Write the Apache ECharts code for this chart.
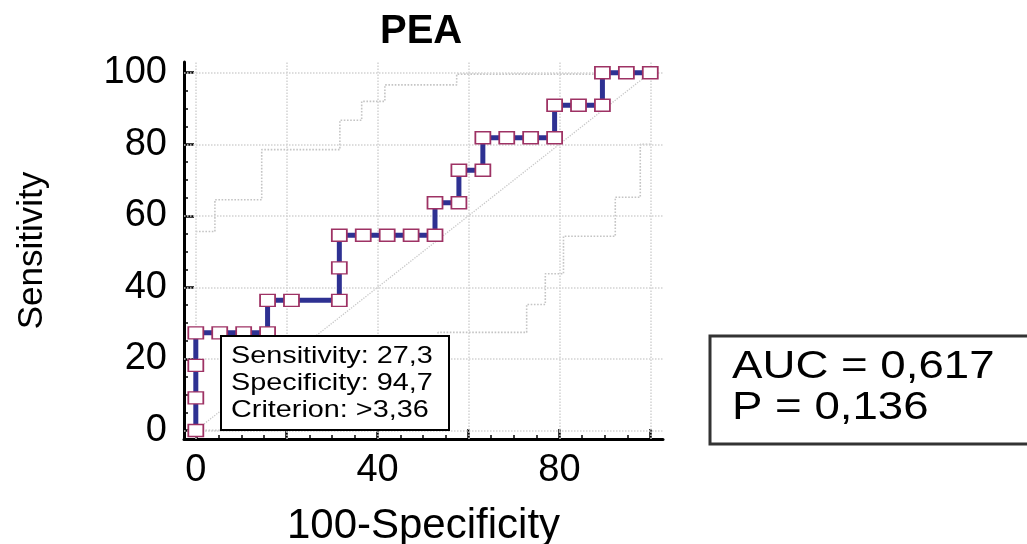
<!DOCTYPE html>
<html><head><meta charset="utf-8">
<script src="https://cdn.jsdelivr.net/npm/echarts@6/dist/echarts.min.js"></script>
<style>html,body{margin:0;padding:0;background:#fff}#c{width:1027px;height:544px}</style>
</head><body><div id="c"></div>
<script>
// ROC curve points (100-Specificity, Sensitivity)
const rocX = [0,0,0,0,5.26,10.53,15.79,15.79,21.05,31.58,31.58,31.58,36.84,42.11,47.37,52.63,52.63,57.89,57.89,63.16,63.16,68.42,73.68,78.95,78.95,84.21,89.47,89.47,94.74,100];
const rocY = [0,9.09,18.18,27.27,27.27,27.27,27.27,36.36,36.36,36.36,45.45,54.55,54.55,54.55,54.55,54.55,63.64,63.64,72.73,72.73,81.82,81.82,81.82,81.82,90.91,90.91,90.91,100,100,100];
// confidence bounds (dotted grey steps)
const upperX = [0,4.2,4.2,14.5,14.5,31.7,31.7,36.5,36.5,41.6,41.6,57.4,57.4,100];
const upperY = [55.6,55.6,64.5,64.5,78.5,78.5,86.7,86.7,92,92,96.6,96.6,99.6,99.6];
const lowerX = [0,36,36,45,45,53.3,53.3,72.8,72.8,76.9,76.9,80.9,80.9,92.3,92.3,97.8,97.8,100];
const lowerY = [0,0,9,9,18,18,27.4,27.4,35.2,35.2,43.8,43.8,54.3,54.3,65.2,65.2,80,80];
const diagX = [0,100];
const diagY = [0,100];
// axes
const majorTicks = [0,20,40,60,80,100];
const minorTicks = [5,10,15,25,30,35,45,50,55,65,70,75,85,90,95];
const xTickLabels = [0,40,80];
const yTickLabels = [0,20,40,60,80,100];
const gridValues = [0,20,40,60,80,100];
// texts
const titleText = 'PEA';
const xName = '100-Specificity';
const yName = 'Sensitivity';
const criterionLines = ['Sensitivity: 27,3','Specificity: 94,7','Criterion: >3,36'];
const statLines = ['AUC = 0,617','P = 0,136'];

const FF = '"Liberation Sans", Arial, sans-serif';
const zip = (a,b) => a.map((v,i) => [v,b[i]]);
const gridStyle = {color:'#d2d2d2', width:1.5, type:'dotted'};
const ciStyle = {color:'#c4c4c4', width:1.6, type:'dotted'};

function mainAxis(isX){
  return {
    type:'value', min: isX ? -2.6 : -2.4, max: isX ? 102.8 : 103,
    position: isX ? 'bottom' : 'left',
    axisLine:{show:true, onZero:false, lineStyle:{color:'#000', width:3}},
    axisTick:{show:true, inside:true, length:10, customValues: majorTicks, lineStyle:{color:'#000', width:2.5}},
    axisLabel:{show:true, customValues: isX ? xTickLabels : yTickLabels, fontSize:38, color:'#000', fontFamily:FF, margin: isX ? 13 : 17},
    splitLine:{show:false},
    name: isX ? xName : yName,
    nameLocation:'middle',
    nameGap: isX ? 66 : 134,
    nameRotate: isX ? 0 : 90,
    nameTextStyle:{fontSize: isX ? 42 : 35, color:'#000', fontFamily:FF}
  };
}
function minorAxis(isX){
  return {
    type:'value', min: isX ? -2.6 : -2.4, max: isX ? 102.8 : 103,
    position: isX ? 'bottom' : 'left',
    axisLine:{show:false, onZero:false},
    axisTick:{show:true, inside:true, length:4, customValues: minorTicks, lineStyle:{color:'#000', width:1.5}},
    axisLabel:{show:false},
    splitLine:{show:false}
  };
}

const graphic = [];
graphic.push({type:'rect', shape:{x:221, y:336, width:228, height:94}, style:{fill:'#fff', stroke:'#000', lineWidth:2}, z:100});
criterionLines.forEach((t,i) => graphic.push({
  type:'text', x:231, y:356.6 + i*26.7, scaleX:1.2, z:101,
  style:{text:t, fontSize:24, fontFamily:FF, fill:'#000', verticalAlign:'middle', align:'left'}
}));
graphic.push({type:'rect', shape:{x:710, y:336, width:340, height:108}, style:{fill:'#fff', stroke:'#333', lineWidth:3}, z:100});
statLines.forEach((t,i) => graphic.push({
  type:'text', x:732, y:367 + i*41, scaleX:1.17, z:101,
  style:{text:t, fontSize:39, fontFamily:FF, fill:'#000', verticalAlign:'middle', align:'left'}
}));

const chart = echarts.init(document.getElementById('c'), null, {renderer:'canvas'});
chart.setOption({
  animation:false,
  backgroundColor:'#fff',
  title:{text:titleText, left:380, top:12, padding:0, textStyle:{fontSize:40, fontWeight:'bold', color:'#000', fontFamily:FF}},
  grid:{left:184, top:62, width:479, height:377, containLabel:false, outerBoundsMode:'none'},
  xAxis:[mainAxis(true), minorAxis(true)],
  yAxis:[mainAxis(false), minorAxis(false)],
  series:[
    {type:'line', name:'diag', data:zip(diagX,diagY), symbol:'none', silent:true, z:1,
     lineStyle:{color:'#c8c8c8', width:1.3, type:'dotted'},
     markLine:{silent:true, symbol:'none', label:{show:false}, lineStyle:gridStyle,
       data: gridValues.map(v=>({xAxis:v})).concat(gridValues.map(v=>({yAxis:v})))}},
    {type:'line', name:'upper', data:zip(upperX,upperY), symbol:'none', silent:true, z:2, lineStyle:ciStyle},
    {type:'line', name:'lower', data:zip(lowerX,lowerY), symbol:'none', silent:true, z:2, lineStyle:ciStyle},
    {type:'line', name:'ROC', data:zip(rocX,rocY), z:5, showAllSymbol:true,
     symbol:'rect', symbolSize:[15,12],
     lineStyle:{color:'#2E3192', width:5},
     itemStyle:{color:'#fff', borderColor:'#9E3264', borderWidth:1.6},
     emphasis:{disabled:true}}
  ],
  graphic: graphic
});
</script>
</body></html>
